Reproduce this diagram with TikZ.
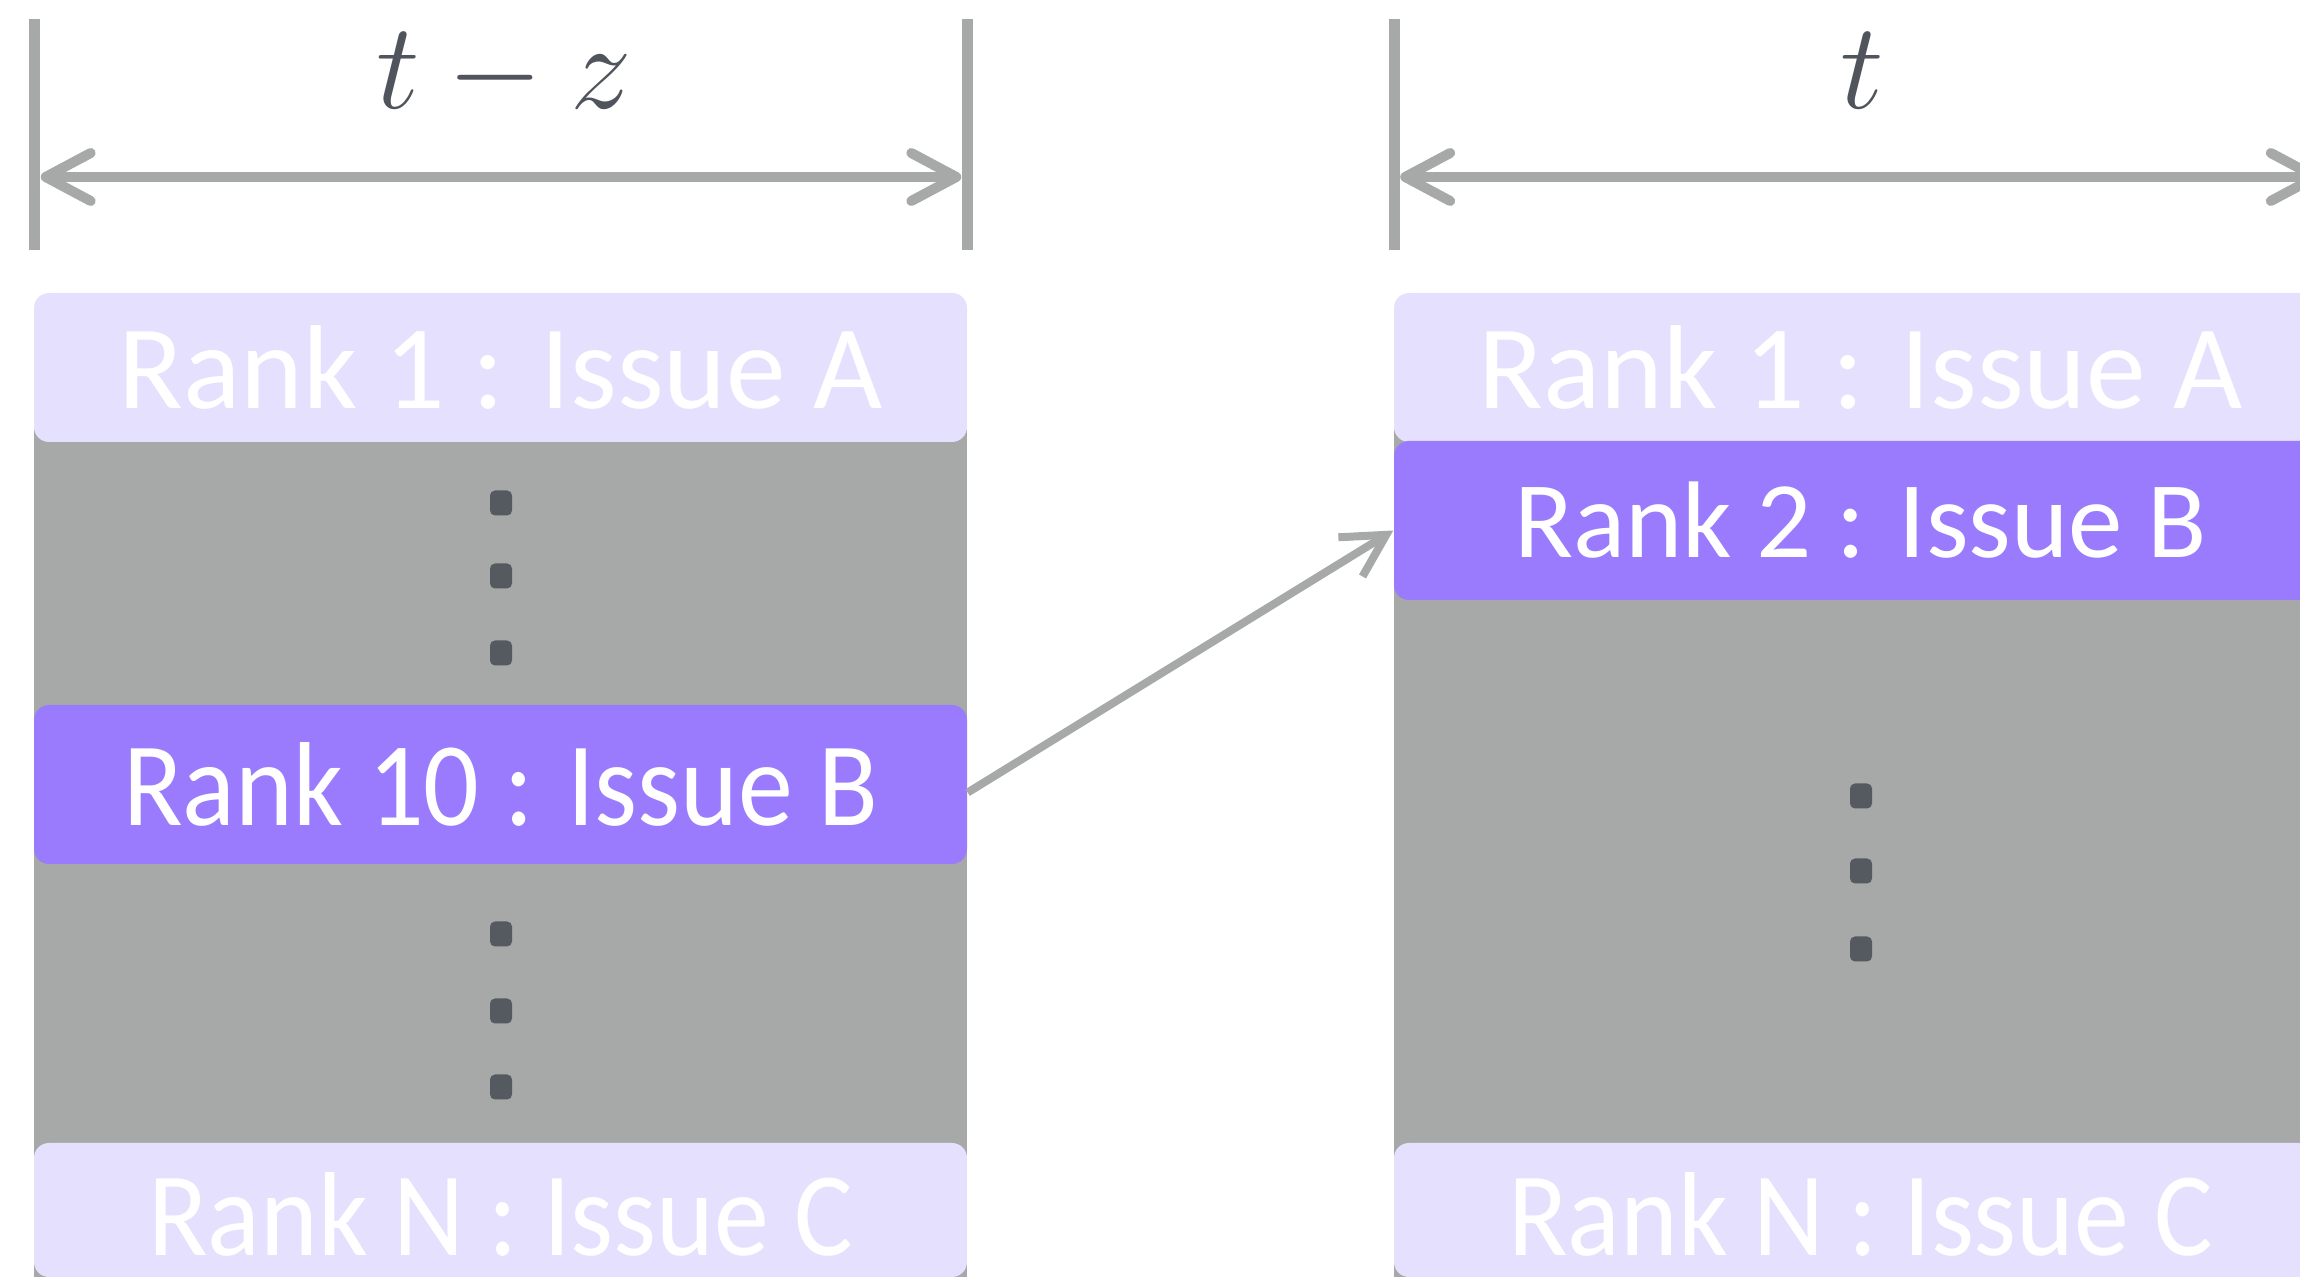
\RequirePackage{fix-cm}
\documentclass[tikz,border=0pt]{standalone}
\usepackage{graphicx}
\usepackage{fontspec}
\setmainfont{Carlito}
\usetikzlibrary{arrows.meta}
\definecolor{colgray}{HTML}{A6A9A8}
\definecolor{rankpale}{HTML}{E4E0FD}
\definecolor{rankhot}{HTML}{9A7BFD}
\definecolor{dotgray}{HTML}{555960}
\definecolor{inkgray}{HTML}{50545C}
\newcommand{\narrow}[1]{\scalebox{0.92}[1]{#1}}
\begin{document}
\begin{tikzpicture}[
    dimbar/.style={rectangle,fill=colgray,minimum width=0.11cm,minimum height=2.31cm,inner sep=0pt},
    spanarrow/.style={{Straight Barb[length=0.45cm,width=0.48cm,round]}-{Straight Barb[length=0.45cm,width=0.48cm,round]},draw=colgray,line width=0.1cm},
    moveup/.style={-{Straight Barb[length=0.42cm,width=0.46cm]},draw=colgray,line width=0.08cm},
    colbg/.style={rectangle,fill=colgray,minimum width=9.33cm,minimum height=9.5cm,inner sep=0pt},
    rank/.style={rectangle,rounded corners=0.15cm,minimum width=9.33cm,inner sep=0pt,text=white,font=\fontsize{34}{40}\selectfont},
    rankcool/.style={rank,fill=rankpale,minimum height=1.49cm},
    rankhot/.style={rank,fill=rankhot,minimum height=1.59cm},
    ranklast/.style={rank,fill=rankpale,minimum height=1.34cm,text height=0.91cm,text depth=0cm},
    gapdot/.style={rectangle,rounded corners=0.05cm,fill=dotgray,minimum width=0.22cm,minimum height=0.25cm,inner sep=0pt},
    lbl/.style={text=inkgray,font=\fontsize{35}{40}\selectfont,inner sep=0pt,anchor=base},
]
    \useasboundingbox (0,0) rectangle (23,-12.77);
    \clip (0,0) rectangle (23,-12.77);

    \node[dimbar] (la) at (0.345,-1.345) {};
    \node[dimbar] (lb) at (9.675,-1.345) {};
    \node[dimbar] (ra) at (13.94,-1.345) {};
    \node[dimbar] (rb) at (23.27,-1.345) {};
    \draw[spanarrow] ([yshift=-4.25mm]la.east) -- ([yshift=-4.25mm]lb.west);
    \draw[spanarrow] ([yshift=-4.25mm]ra.east) -- ([yshift=-4.25mm]rb.west);
    \node[lbl] (lz) at (5.04,-1.09) {$t-z$};
    \node[lbl] (rt) at (18.62,-1.09) {$t$};

    \node[colbg] (lcol) at (5.005,-8.42) {};
    \node[colbg] (rcol) at (18.605,-8.42) {};

    \node[rankcool] (l1) at (5.005,-3.675) {Rank 1 : Issue A};
    \node[rankhot] (l10) at (5.005,-7.845) {\narrow{Rank 10 : Issue B}};
    \node[ranklast] (ln) at (5.005,-12.1) {\narrow{Rank N : Issue C}};

    \node[rankcool] (r1) at (18.605,-3.675) {Rank 1 : Issue A};
    \node[rankhot,font=\fontsize{31}{36}\selectfont] (r2) at (18.605,-5.205) {Rank 2 : Issue B};
    \node[ranklast] (rn) at (18.605,-12.1) {\narrow{Rank N : Issue C}};

    \foreach \y [count=\i] in {-5.03,-5.76,-6.53,-9.34,-10.11,-10.87}
        \node[gapdot] (ld\i) at (5.01,\y) {};
    \foreach \y [count=\i] in {-7.96,-8.71,-9.49}
        \node[gapdot] (rd\i) at (18.61,\y) {};

    \draw[moveup] ([yshift=-0.8mm]l10.east) -- ([yshift=-1mm]r2.west);
\end{tikzpicture}
\end{document}
